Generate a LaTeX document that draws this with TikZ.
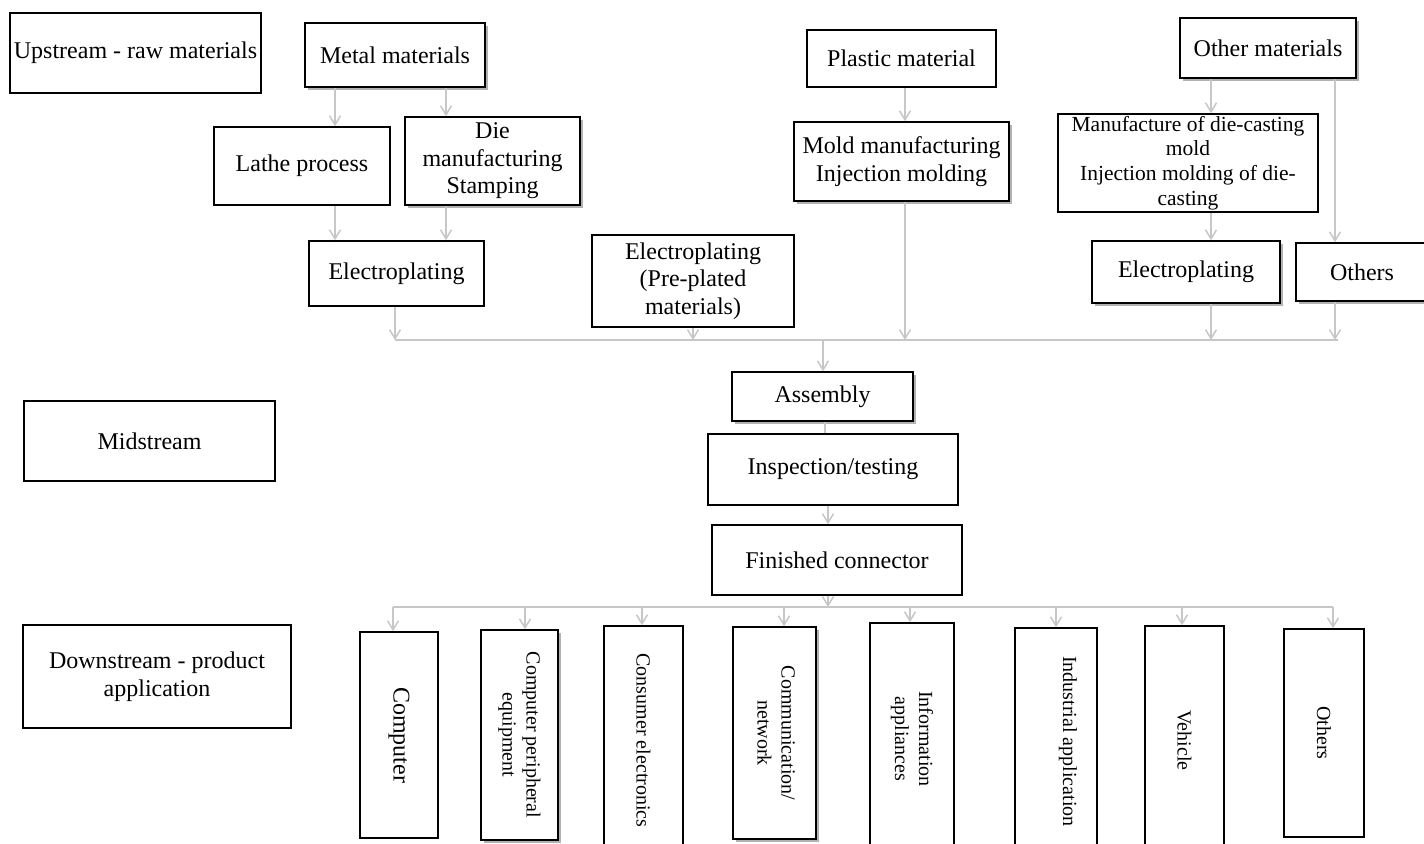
\documentclass[tikz,border=0pt]{standalone}
\usepackage{fontspec}
\setmainfont{Liberation Serif}
\usepackage{graphicx}
\usetikzlibrary{arrows.meta,shadows,calc}
\begin{document}
\begin{tikzpicture}[x=0.5pt,y=-0.5pt,
  box/.style={draw=black, line width=0.8pt, fill=white, rectangle, align=center, inner sep=1pt, font=\fontsize{12}{13.8}\selectfont},
  sz/.style 2 args={minimum width=#1*0.5pt, minimum height=#2*0.5pt},
  shd/.style={drop shadow={shadow xshift=1.5pt, shadow yshift=-1.5pt, fill=black!30, opacity=1}},
  arr/.style={draw=black!22, line width=0.75pt, -{Straight Barb[length=4.5pt,width=5.5pt]}},
  conn/.style={draw=black!22, line width=0.75pt},
  vbox/.style={box, font=\fontsize{10}{12}\selectfont}]
\fill[white] (0,0) rectangle (1424,843);
\useasboundingbox (0,0) rectangle (1424,843);

% upstream
\node[box, sz={251}{80}] (up) at (135.5,53) {Upstream - raw materials};
\node[box, shd, sz={180}{64}] (metal) at (395,55) {Metal materials};
\node[box, sz={176}{78}] (lathe) at (302,166) {Lathe process};
\node[box, shd, sz={175}{88}] (die) at (492.5,161) {Die\\ manufacturing\\ Stamping};
\node[box, sz={175}{65}] (el1) at (396.5,273.5) {Electroplating};
\node[box, sz={202}{92}] (pre) at (693,281) {Electroplating\\ (Pre-plated\\ materials)};
\node[box, sz={189}{57}] (plastic) at (901.5,58.5) {Plastic material};
\node[box, shd, sz={215}{79}] (mold) at (901.5,161.5) {Mold manufacturing\\ Injection molding};
\node[box, shd, sz={176}{60}] (other) at (1268,48) {Other materials};
\node[box, inner sep=0pt, sz={260}{98}, font=\fontsize{10.75}{12.4}\selectfont] (manuf) at (1188,163) {Manufacture of die-casting\\ mold\\ Injection molding of die-\\ casting};
\node[box, shd, sz={188}{62}] (el3) at (1186,272) {Electroplating};
\node[box, shd, sz={132}{58}] (oth1) at (1362,272) {Others};

% midstream
\node[box, shd, sz={181}{49}] (asm) at (822.5,396.5) {Assembly};
\node[box, sz={250}{71}] (insp) at (833,469.5) {Inspection/testing};
\node[box, sz={250}{70}] (fin) at (837,560) {Finished connector};
\node[box, sz={251}{80}] (mid) at (149.5,441) {Midstream};
\node[box, sz={268}{103}] (down) at (157,676.5) {Downstream - product\\ application};

% downstream
\node[box, sz={78}{206}] (comp) at (399,735) {\rotatebox{-90}{Computer}};
\node[vbox, shd, sz={77}{210}] (periph) at (519.5,735) {\rotatebox{-90}{\begin{tabular}{@{}c@{}}Computer peripheral\\ equipment\end{tabular}}};
\node[vbox, sz={79}{229}] (cons) at (643.5,740.5) {\rotatebox{-90}{Consumer electronics}};
\node[vbox, shd, sz={83}{212}] (comm) at (774.5,733) {\rotatebox{-90}{\begin{tabular}{@{}c@{}}Communication/\\ network\end{tabular}}};
\node[vbox, sz={84}{232}] (info) at (912,739) {\rotatebox{-90}{\begin{tabular}{@{}c@{}}Information\\ appliances\end{tabular}}};
\node[vbox, sz={82}{227}] (indus) at (1056,741.5) {\hspace*{12pt}\rotatebox{-90}{Industrial application}};
\node[vbox, sz={79}{229}] (veh) at (1184.5,740.5) {\rotatebox{-90}{Vehicle}};
\node[vbox, sz={80}{208}] (oth2) at (1324,733) {\rotatebox{-90}{Others}};

% coordinates
\coordinate (xa) at (335,0);
\coordinate (xb) at (446,0);
\coordinate (xm) at (905,0);
\coordinate (xo) at (1211,0);
\coordinate (xp) at (1335,0);
\coordinate (xasm) at (823,0);
\coordinate (xins) at (825,0);
\coordinate (xfin) at (828,0);
\coordinate (busL) at (395,340);
\coordinate (busR) at (1338,340);
\coordinate (bus2L) at (393,607);
\coordinate (bus2R) at (1333,607);
\coordinate (d1) at (393,0);
\coordinate (d2) at (525,0);
\coordinate (d3) at (642,0);
\coordinate (d4) at (784,0);
\coordinate (d5) at (910,0);
\coordinate (d6) at (1056,0);
\coordinate (d7) at (1182,0);
\coordinate (d8) at (1333,0);

% connectors upstream
\draw[arr] (metal.south -| xa) -- (lathe.north -| xa);
\draw[arr] (metal.south -| xb) -- (die.north -| xb);
\draw[arr] (lathe.south -| xa) -- (el1.north -| xa);
\draw[arr] (die.south -| xb) -- (el1.north -| xb);
\draw[arr] (el1.south -| busL) -- (busL);
\draw[arr] (pre.south) -- (pre.south |- busL);
\draw[arr] (plastic.south -| xm) -- (mold.north -| xm);
\draw[arr] (mold.south -| xm) -- (xm |- busL);
\draw[arr] (other.south -| xo) -- (manuf.north -| xo);
\draw[arr] (manuf.south -| xo) -- (el3.north -| xo);
\draw[arr] (other.south -| xp) -- (oth1.north -| xp);
\draw[arr] (el3.south -| xo) -- (xo |- busL);
\draw[arr] (oth1.south -| xp) -- (xp |- busL);
\draw[conn] (busL) -- (busR);

% midstream connectors
\draw[arr] (busL -| xasm) -- (asm.north -| xasm);
\draw[conn] (asm.south -| xins) -- (insp.north -| xins);
\draw[arr] (insp.south -| xfin) -- (fin.north -| xfin);
\draw[arr] (fin.south -| xfin) -- (xfin |- bus2L);
\draw[conn] (bus2L) -- (bus2R);

% downstream connectors
\draw[arr] (bus2L -| d1) -- (comp.north -| d1);
\draw[arr] (bus2L -| d2) -- (periph.north -| d2);
\draw[arr] (bus2L -| d3) -- (cons.north -| d3);
\draw[arr] (bus2L -| d4) -- (comm.north -| d4);
\draw[arr] (bus2L -| d5) -- (info.north -| d5);
\draw[arr] (bus2L -| d6) -- (indus.north -| d6);
\draw[arr] (bus2L -| d7) -- (veh.north -| d7);
\draw[arr] (bus2L -| d8) -- (oth2.north -| d8);
\end{tikzpicture}
\end{document}
